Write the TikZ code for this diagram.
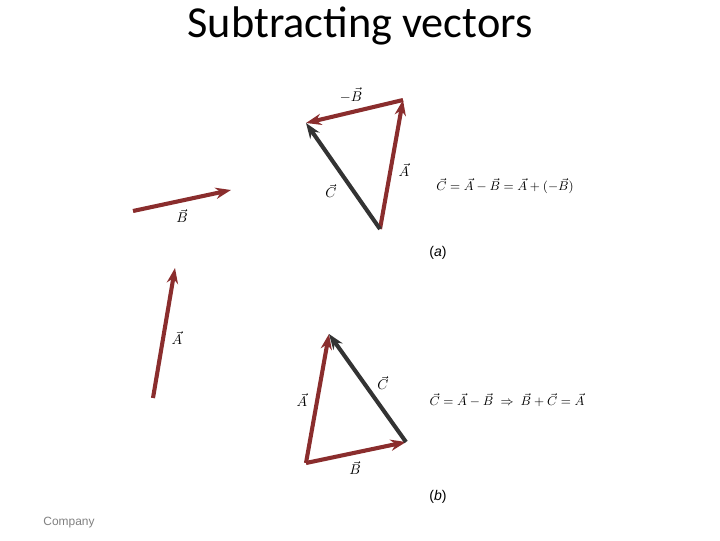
\documentclass[tikz,border=0pt]{standalone}
\usepackage{fontspec}
\setsansfont{Liberation Sans}
\newfontfamily\titlefont{Carlito}
\usetikzlibrary{arrows.meta}
\definecolor{vecred}{HTML}{8A2D2D}
\definecolor{vecgray}{HTML}{333333}

\begin{document}
\begin{tikzpicture}[x=0.025cm, y=-0.025cm,
    vec/.style={line width=2.9pt, -{Stealth[length=11pt,width=8pt]}},
    redvec/.style={vec, vecred},
    grayvec/.style={vec, vecgray},
    veclabel/.style={font=\normalsize, inner sep=1pt},
    eqlabel/.style={font=\small, inner sep=1pt},
    caption/.style={font=\sffamily\normalsize, inner sep=1pt}
]
\useasboundingbox (0,0) rectangle (720,540);

% --- TITLE ---
\node[font=\titlefont\fontsize{31.5}{34}\selectfont] (title) at (360,26) {Subtracting vectors};

% --- SINGLE VECTORS ---
\coordinate (b0) at (133,211);
\coordinate (b1) at (231,190);
\coordinate (a0) at (153,398);
\coordinate (a1) at (175,268);
\draw[redvec] (b0) -- (b1);
\draw[redvec] (a0) -- (a1);
\node[veclabel] (lblB) at (182,216) {$\vec{B}$};
\node[veclabel] (lblA) at (177,338) {$\vec{A}$};

% --- PART (a) ---
\coordinate (pa) at (380,229);
\coordinate (qa) at (403,100);
\coordinate (ra) at (306,123);
\draw[redvec] (pa) -- (qa);
\draw[redvec] (qa) -- (ra);
\draw[grayvec] (pa) -- (ra);
\node[veclabel] (lblnegB) at (351,95) {$-\vec{B}$};
\node[veclabel] (lblAa) at (404,170) {$\vec{A}$};
\node[veclabel] (lblCa) at (331,191) {$\vec{C}$};
\node[eqlabel] (eqa) at (505,186) {$\vec{C}=\vec{A}-\vec{B}=\vec{A}+(-\vec{B})$};
\node[caption] (capa) at (438,253) {(\textit{a})};

% --- PART (b) ---
\coordinate (pb) at (306,463);
\coordinate (qb) at (329,334);
\coordinate (rb) at (406,442);
\draw[redvec] (pb) -- (qb);
\draw[redvec] (pb) -- (rb);
\draw[grayvec] (rb) -- (qb);
\node[veclabel] (lblAb) at (302,400) {$\vec{A}$};
\node[veclabel] (lblBb) at (355,468) {$\vec{B}$};
\node[veclabel] (lblCb) at (383,383) {$\vec{C}$};
\node[eqlabel] (eqb) at (507,400) {$\vec{C}=\vec{A}-\vec{B}\;\Rightarrow\;\vec{B}+\vec{C}=\vec{A}$};
\node[caption] (capb) at (438,497) {(\textit{b})};

% --- FOOTER ---
\node[font=\sffamily\fontsize{8.5}{10}\selectfont, text=gray] (company) at (69,523) {Company};

\end{tikzpicture}
\end{document}
